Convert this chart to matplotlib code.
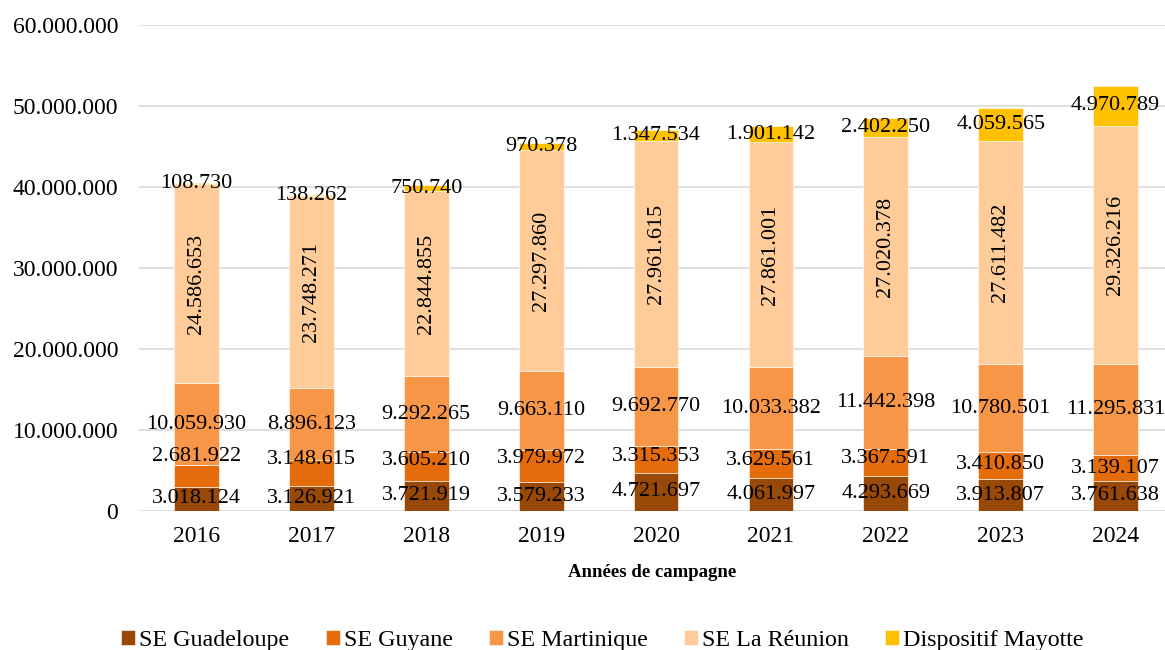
import matplotlib
matplotlib.use("Agg")
import matplotlib.pyplot as plt
import numpy as np

# Values per campaign year
years = ["2016", "2017", "2018", "2019", "2020", "2021", "2022", "2023", "2024"]
guadeloupe = [3018124, 3126921, 3721919, 3579233, 4721697, 4061997, 4293669, 3913807, 3761638]
guyane = [2681922, 3148615, 3605210, 3979972, 3315353, 3629561, 3367591, 3410850, 3139107]
martinique = [10059930, 8896123, 9292265, 9663110, 9692770, 10033382, 11442398, 10780501, 11295831]
reunion = [24586653, 23748271, 22844855, 27297860, 27961615, 27861001, 27020378, 27611482, 29326216]
mayotte = [108730, 138262, 750740, 970378, 1347534, 1901142, 2402250, 4059565, 4970789]

series = [
    ("SE Guadeloupe", guadeloupe, "#984807"),
    ("SE Guyane", guyane, "#E46C0A"),
    ("SE Martinique", martinique, "#F79646"),
    ("SE La Réunion", reunion, "#FFCC99"),
    ("Dispositif Mayotte", mayotte, "#FFC000"),
]

# Guyane labels were moved by hand in the original (height in millions)
guyane_label_y = [6.7, 6.3, 6.2, 6.5, 6.7, 6.2, 6.5, 5.8, 5.2]

plt.rcParams['font.family'] = ['Liberation Serif', 'DejaVu Serif']


def fmt(v):
    return f"{v:,}".replace(",", ".")


fig = plt.figure(figsize=(11.65, 6.5), dpi=100)
ax = fig.add_axes([139 / 1165, 1 - 511 / 650, 1 - 139 / 1165, 486 / 650])

x = np.arange(len(years))
width = 0.39
bottom = np.zeros(len(years))

for i, (name, vals, color) in enumerate(series):
    vals = np.array(vals, dtype=float)
    ax.bar(x, vals, width, bottom=bottom, color=color, label=name,
           edgecolor="white", linewidth=0.4, zorder=3)
    for j, v in enumerate(vals):
        if name == "SE Guyane":
            y = guyane_label_y[j] * 1e6
        else:
            y = bottom[j] + v / 2
        rot = 90 if name == "SE La Réunion" else 0
        ax.text(x[j], y, fmt(int(v)), ha="center", va="center",
                fontsize=16, rotation=rot, zorder=4)
    bottom += vals

ax.set_xlim(-0.5, 8.43)
ax.set_ylim(0, 60e6)
ticks = np.arange(0, 60e6 + 1, 10e6)
ax.set_yticks(ticks)
ax.set_yticklabels([fmt(int(t)) for t in ticks], fontsize=17)
ax.set_xticks(x)
ax.set_xticklabels(years, fontsize=17)
ax.tick_params(axis="both", length=0)
ax.tick_params(axis="x", pad=11)
ax.tick_params(axis="y", pad=15)
ax.yaxis.grid(True, color="#d9d9d9", linewidth=1.2, zorder=0)
for s in ax.spines.values():
    s.set_visible(False)

ax.set_xlabel("Années de campagne", fontsize=13.5, fontweight="bold", labelpad=12)

fig.legend(loc="center", bbox_to_anchor=(0.517, 0.015), ncol=5, frameon=False,
           fontsize=17.3, handlelength=0.58, handleheight=0.58, handletextpad=0.17,
           columnspacing=1.5, borderpad=0)

fig.savefig("out.png", dpi=100)
